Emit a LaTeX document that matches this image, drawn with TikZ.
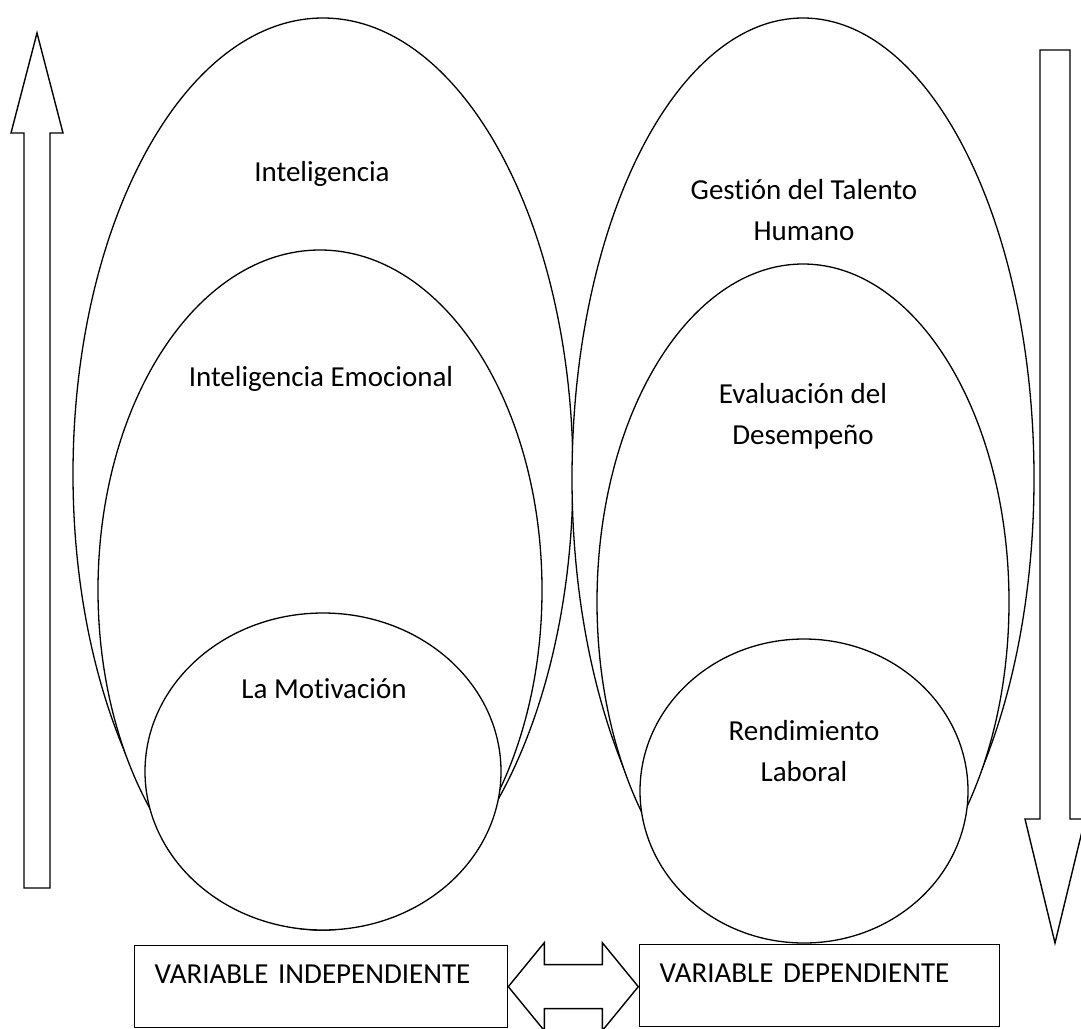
\documentclass[tikz,border=0pt]{standalone}
\usepackage{fontspec}
\setmainfont{Carlito}[Ligatures=NoCommon]
\usetikzlibrary{shapes.geometric}
\begin{document}
\begin{tikzpicture}[x=1pt, y=-1pt,
  oval/.style={ellipse, draw=black, line width=1.3pt, fill=white, inner sep=0pt, outer sep=0pt},
  txt/.style={font=\fontsize{29}{41}\selectfont, align=center, inner sep=0pt},
  varbox/.style={draw=black, line width=1.3pt, font=\fontsize{29}{34}\selectfont,
    anchor=north west, align=left, inner xsep=20pt, inner ysep=0pt,
    text height=38pt, text depth=44pt},
  bigarrow/.style={draw=black, line width=1.4pt, fill=white, line join=miter}]
\useasboundingbox (0,0) rectangle (1081,1028);

% left group: nested ovals
\node[oval, minimum width=500pt, minimum height=912pt] (intel) at (323,474) {};
\node[oval, minimum width=444pt, minimum height=680pt] (emoc) at (320,590) {};
\node[oval, minimum width=356pt, minimum height=317pt] (motiv) at (323,771.5) {};
\node[txt] (tintel) at (322,174) {Inteligencia};
\node[txt] (temoc) at (321,379) {Inteligencia Emocional};
\node[txt] (tmotiv) at (324,689) {La Motivación};

% right group: nested ovals
\node[oval, minimum width=462pt, minimum height=920pt] (talento) at (803,478) {};
\node[oval, minimum width=412pt, minimum height=676pt] (desemp) at (803,602) {};
\node[oval, minimum width=328pt, minimum height=304pt] (rend) at (804,791) {};
\node[txt] (ttalento) at (804,210) {Gestión del Talento\\Humano};
\node[txt] (tdesemp) at (803,416) {Evaluación del\\Desempeño};
\node[txt] (trend) at (804,751) {Rendimiento\\Laboral};

% block arrows at the sides
\draw[bigarrow] (37,33) -- (63,133) -- (50,133) -- (50,888) -- (24,888)
  -- (24,133) -- (11,133) -- cycle;
\draw[bigarrow] (1040,50) -- (1070,50) -- (1070,819) -- (1085,819) -- (1055,943)
  -- (1025,819) -- (1040,819) -- cycle;

% variable boxes
\node[varbox, text width=333pt] (lbox) at (134,945) {VARIABLE INDEPENDIENTE};
\node[varbox, text width=320pt] (rbox) at (639,944) {VARIABLE DEPENDIENTE};

% double-headed block arrow between the boxes
\draw[bigarrow] (lbox.east) -- ++(36,-44) -- ++(0,22) -- ++(58,0) -- ++(0,-22)
  -- ++(36,44) -- ++(-36,44) -- ++(0,-22) -- ++(-58,0) -- ++(0,22) -- cycle;
\end{tikzpicture}
\end{document}
